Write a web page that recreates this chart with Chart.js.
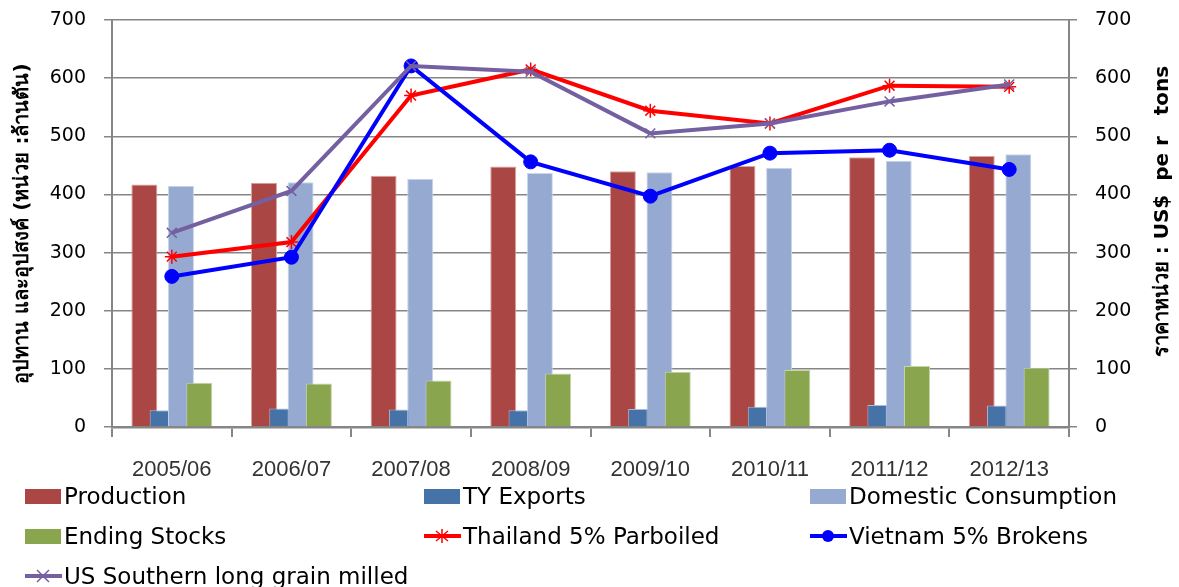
<!DOCTYPE html>
<html>
<head>
<meta charset="utf-8">
<script src="https://cdn.jsdelivr.net/npm/chart.js@4"></script>
<style>
  html, body { margin: 0; padding: 0; background: #fff; }
  #wrap { position: relative; width: 1179px; height: 587px; overflow: hidden; }
  #legend {
    position: absolute; left: 25px; top: 476px; width: 1154px;
    display: grid; grid-template-columns: 399px 386px auto; grid-auto-rows: 40px;
    font-family: 'DejaVu Sans', sans-serif; font-size: 23px; color: #000;
  }
  .item { display: flex; align-items: center; white-space: nowrap; }
  .box { width: 36px; height: 15px; margin-right: 3px; }
  .item svg { margin-right: 2px; }
</style>
</head>
<body>
<div id="wrap">
  <canvas id="rice"></canvas>
  <div id="legend"></div>
</div>
<script>
// ปีการผลิต
const years = ['2005/06', '2006/07', '2007/08', '2008/09', '2009/10', '2010/11', '2011/12', '2012/13'];

// อุปทาน/อุปสงค์ (ล้านตัน) - แกนซ้าย
const production = [417, 420, 432, 448, 440, 449, 464, 466];
const tyExports = [29, 32, 30, 29, 31, 35, 38, 37];
const domestic = [415, 421, 427, 437, 438, 446, 458, 469];
const endingStocks = [76, 75, 80, 92, 95, 98, 105, 102];

// ราคา (US$ per tons) - แกนขวา
const thailand = [293, 318, 570, 615, 544, 522, 587, 585];
const vietnam = [259, 292, 621, 456, 397, 471, 476, 443];
const usSouthern = [334, 406, 621, 611, 505, 522, 560, 589];

const axisTicks = [0, 100, 200, 300, 400, 500, 600, 700];
const rightTitle = 'ราคาหน่วย : US$  pe r   tons';

const GRID = '#868686';
const COLORS = {
  production: '#AA4643',
  exports: '#4572A7',
  domestic: '#95A9D1',
  stocks: '#89A54E',
  thailand: '#FF0000',
  vietnam: '#0000FF',
  us: '#7460A0',
};

const FONT = "Tahoma, 'DejaVu Sans', sans-serif";

// Excel style: bars overlap and the later series sits on top
const barsBackToFront = {
  id: 'barsBackToFront',
  beforeDatasetsDraw(chart) {
    chart.data.datasets.forEach((ds, i) => {
      const meta = chart.getDatasetMeta(i);
      if (meta.type === 'bar' && meta.visible) meta.controller.draw();
    });
  },
  beforeDatasetDraw(chart, args) {
    if (args.meta.type === 'bar') return false;
  },
};

// right axis title reads bottom-to-top (Chart.js rotates it the other way)
const rightAxisTitle = {
  id: 'rightAxisTitle',
  afterDraw(chart) {
    const s = chart.scales.y1;
    const { ctx, chartArea } = chart;
    ctx.save();
    ctx.translate(s.right - 16, (chartArea.top + chartArea.bottom) / 2 - 12);
    ctx.rotate(-Math.PI / 2);
    ctx.font = `bold 20px ${FONT}`;
    ctx.fillStyle = '#000';
    ctx.textAlign = 'center';
    ctx.textBaseline = 'middle';
    ctx.fillText(rightTitle, 0, 0);
    ctx.restore();
  },
};

const barDs = (label, data, color, border) => ({
  type: 'bar',
  label,
  data,
  backgroundColor: color,
  borderColor: border,
  borderWidth: 1,
  categoryPercentage: 0.612,
  barPercentage: 1.42,
  yAxisID: 'y',
});

const lineDs = (label, data, color, pointStyle, radius, order) => ({
  type: 'line',
  label,
  data,
  borderColor: color,
  backgroundColor: color,
  borderWidth: 4,
  pointStyle,
  pointRadius: radius,
  pointBorderColor: color,
  pointBorderWidth: pointStyle === 'circle' ? 1 : 1.5,
  pointBackgroundColor: color,
  tension: 0,
  order,
  yAxisID: 'y1',
});

const tickFont = { family: FONT, size: 19 };

// keep the label padding from pushing the plot down
const fitY = width => s => {
  s.width = width;
  s.paddingTop = 0;
  s.paddingBottom = 0;
};

const chart = new Chart(document.getElementById('rice'), {
  type: 'bar',
  data: {
    labels: years,
    datasets: [
      barDs('Production', production, COLORS.production, '#D9A3A2'),
      barDs('TY Exports', tyExports, COLORS.exports, '#A6BCD8'),
      barDs('Domestic Consumption', domestic, COLORS.domestic, '#C9D5EA'),
      barDs('Ending Stocks', endingStocks, COLORS.stocks, '#C6D4A8'),
      lineDs('Thailand 5% Parboiled', thailand, COLORS.thailand, 'star', 7, -1),
      lineDs('Vietnam 5% Brokens', vietnam, COLORS.vietnam, 'circle', 7, -2),
      lineDs('US Southern long grain milled', usSouthern, COLORS.us, 'crossRot', 7, -3),
    ],
  },
  options: {
    responsive: true,
    maintainAspectRatio: false,
    animation: false,
    layout: { padding: { top: 20, bottom: 110, left: 0, right: 0 } },
    plugins: {
      legend: { display: false },
      tooltip: { enabled: false },
    },
    scales: {
      x: {
        offset: true,
        border: { color: GRID, width: 2.5 },
        grid: { offset: true, drawOnChartArea: false, drawTicks: true, tickLength: 10, color: GRID, lineWidth: 2 },
        ticks: { color: '#333', padding: 20, font: { family: "'Liberation Sans', Arial, sans-serif", size: 22 } },
        afterFit: s => { s.height = 50; },
      },
      y: {
        position: 'left',
        min: 0,
        max: 700,
        afterBuildTicks: s => { s.ticks = axisTicks.map(v => ({ value: v })); },
        border: { color: GRID, width: 2 },
        grid: { color: GRID, lineWidth: 1.5, tickLength: 8 },
        ticks: { color: '#000', padding: 18, font: tickFont },
        title: {
          display: true,
          text: 'อุปทาน และอุปสงค์ (หน่วย :ล้านตัน)',
          color: '#000',
          font: { family: FONT, size: 20, weight: 'bold' },
          padding: { top: 11, bottom: 0 },
        },
        afterFit: fitY(112),
      },
      y1: {
        position: 'right',
        min: 0,
        max: 700,
        afterBuildTicks: s => { s.ticks = axisTicks.map(v => ({ value: v })); },
        border: { color: GRID, width: 2 },
        grid: { drawOnChartArea: false, color: GRID, lineWidth: 1.5, tickLength: 8 },
        ticks: { color: '#000', padding: 18, font: tickFont },
        afterFit: fitY(110),
      },
    },
  },
  plugins: [barsBackToFront, rightAxisTitle],
});

// HTML legend, three columns like the Excel original
function markerSvg(ds) {
  const c = ds.borderColor;
  let mark = '';
  if (ds.pointStyle === 'circle') {
    mark = `<circle cx="18" cy="10" r="6" fill="${c}"/>`;
  } else if (ds.pointStyle === 'star') {
    mark = `<path d="M18 3V17M12 5L24 15M24 5L12 15" stroke="${c}" stroke-width="1.5"/>`;
  } else {
    mark = `<path d="M12 4L24 16M24 4L12 16" stroke="${c}" stroke-width="1.5"/>`;
  }
  return `<svg width="37" height="20"><line x1="0" y1="10" x2="37" y2="10" stroke="${c}" stroke-width="4"/>${mark}</svg>`;
}

document.getElementById('legend').innerHTML = chart.data.datasets.map(ds => {
  const mark = ds.type === 'bar'
    ? `<span class="box" style="background:${ds.backgroundColor}"></span>`
    : markerSvg(ds);
  return `<div class="item">${mark}<span>${ds.label}</span></div>`;
}).join('');
</script>
</body>
</html>
